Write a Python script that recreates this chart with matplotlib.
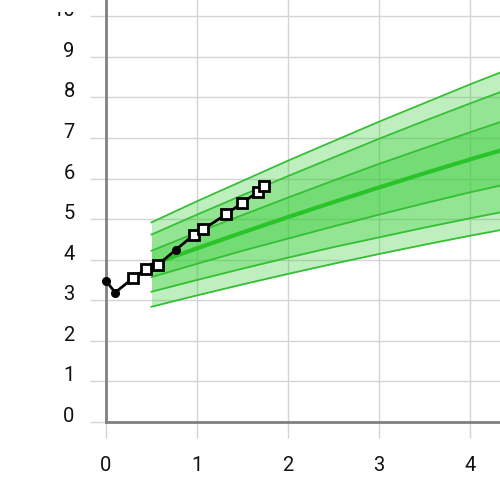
import matplotlib
matplotlib.use("Agg")
import matplotlib.pyplot as plt
from matplotlib.transforms import Bbox, TransformedBbox

plt.rcParams['font.family'] = ['Roboto', 'DejaVu Sans']

# observed series
obs_x = [0.00, 0.10, 0.30, 0.44, 0.57, 0.77, 0.97, 1.07, 1.32, 1.49, 1.67, 1.74]
obs_y = [3.48, 3.19, 3.55, 3.77, 3.87, 4.25, 4.62, 4.75, 5.12, 5.39, 5.67, 5.82]
obs_marker = ['o', 'o', 's', 's', 's', 'o', 's', 's', 's', 's', 's', 's']

# reference bands
band_x = [0.5, 1.0, 1.5, 2.0, 2.5, 3.0, 3.5, 4.0, 4.5]
band_top = [4.92, 5.44, 5.94, 6.44, 6.92, 7.40, 7.86, 8.32, 8.76]
band_hi2 = [4.62, 5.11, 5.59, 6.06, 6.52, 6.98, 7.42, 7.85, 8.27]
band_hi1 = [4.22, 4.67, 5.10, 5.53, 5.95, 6.36, 6.75, 7.14, 7.52]
band_mid = [3.88, 4.28, 4.67, 5.05, 5.42, 5.78, 6.13, 6.47, 6.80]
band_lo1 = [3.57, 3.90, 4.22, 4.52, 4.82, 5.11, 5.39, 5.66, 5.91]
band_lo2 = [3.21, 3.50, 3.78, 4.05, 4.31, 4.55, 4.79, 5.02, 5.24]
band_bot = [2.84, 3.12, 3.39, 3.65, 3.90, 4.14, 4.37, 4.59, 4.80]

x_ticks = [0, 1, 2, 3, 4]
y_ticks = [0, 1, 2, 3, 4, 5, 6, 7, 8, 9, 10]

fig = plt.figure(figsize=(5, 5), dpi=100)
ax = fig.add_axes([0.212, 0.156, 0.788, 0.844])
ax.set_xlim(0, 4.33)
ax.set_ylim(0, 10.4)

grid_c = '#d4d4d4'
ax.set_xticks(x_ticks)
ax.set_yticks(y_ticks)
ax.set_xticklabels([str(v) for v in x_ticks])
ax.set_yticklabels([str(v) for v in y_ticks])
ax.grid(True, color=grid_c, lw=1, zorder=0)
ax.set_axisbelow(True)
ax.tick_params(axis='both', length=11.5, width=1, color=grid_c,
               labelsize=14.5, labelcolor='#111111')
ax.tick_params(axis='x', pad=13)
ax.tick_params(axis='y', pad=11)
for lab in ax.get_yticklabels():
    lab.set_va('baseline')

for s in ['top', 'right']:
    ax.spines[s].set_visible(False)
for s in ['left', 'bottom']:
    ax.spines[s].set_color('#808080')
    ax.spines[s].set_linewidth(2)
    ax.spines[s].set_zorder(3)

green = '#2ecc2e'
line_g = '#34bf34'
ax.fill_between(band_x, band_bot, band_top, color=green, alpha=0.3, lw=0, zorder=1)
ax.fill_between(band_x, band_lo2, band_hi2, color=green, alpha=0.3, lw=0, zorder=1)
ax.fill_between(band_x, band_lo1, band_hi1, color=green, alpha=0.3, lw=0, zorder=1)
for ys in [band_top, band_hi2, band_hi1, band_lo1, band_lo2, band_bot]:
    ax.plot(band_x, ys, color=line_g, lw=1.3, zorder=2)
ax.plot(band_x, band_mid, color='#2ac42a', lw=3, zorder=2)

ax.plot(obs_x, obs_y, color='black', lw=2, zorder=4, clip_on=False)
for xv, yv, m in zip(obs_x, obs_y, obs_marker):
    if m == 'o':
        ax.plot([xv], [yv], marker='o', ms=5.5, color='black', zorder=5, clip_on=False)
    else:
        ax.plot([xv], [yv], marker='s', ms=6.5, mfc='white', mec='black', mew=2,
                zorder=5, clip_on=False)

fig.canvas.draw()
top_tick = ax.yaxis.get_major_ticks()[-1].label1
top_tick.set_clip_box(TransformedBbox(Bbox([[0, 0], [1, 1 - 12 / 500]]), fig.transFigure))
top_tick.set_clip_on(True)

fig.savefig('out.png', dpi=100)
